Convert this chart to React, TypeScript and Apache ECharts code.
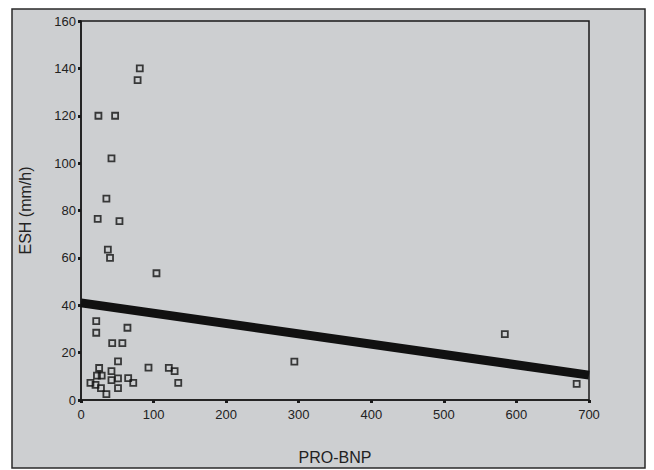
import React, { useEffect, useRef } from "react";
import * as echarts from "echarts";

const proBnp = [81, 78, 24, 47, 42, 35, 23, 53, 37, 40, 104, 21, 21, 64, 43, 57, 51, 25, 22, 28.5, 42, 42, 51, 51, 65, 72, 13, 20, 27.5, 35, 93, 121, 129, 134, 294, 584, 683];
const esh = [140, 135, 120, 120, 102, 85, 76.5, 75.5, 63.5, 60, 53.5, 33.3, 28.4, 30.5, 24, 24, 16.3, 13.5, 10.3, 10.3, 12.2, 8.4, 9.1, 5, 9.2, 7.2, 7.2, 6.4, 5, 2.5, 13.7, 13.6, 12.2, 7.2, 16.2, 27.8, 6.8];
const fitX = [0, 700];
const fitY = [41, 10.5];
const xTitle = "PRO-BNP";
const yTitle = "ESH (mm/h)";

export default function App() {
  const ref = useRef<HTMLDivElement>(null);
  useEffect(() => {
    document.body.style.margin = "0";
    const chart = echarts.init(ref.current!, undefined, { renderer: "svg" });
    const font = "'Liberation Sans', Arial, sans-serif";
    chart.setOption({
      animation: false,
      backgroundColor: "#ffffff",
      graphic: {
        elements: [
          {
            type: "rect",
            z: -100,
            shape: { x: 12, y: 9, width: 633, height: 459 },
            style: { fill: "#cdcfd1", stroke: "#2a2a2a", lineWidth: 1.5 },
          },
        ],
      },
      grid: {
        left: 81,
        top: 21,
        right: 65,
        bottom: 70,
        show: true,
        borderColor: "#1a1a1a",
        borderWidth: 1.5,
        backgroundColor: "transparent",
      },
      xAxis: {
        type: "value",
        min: 0,
        max: 700,
        interval: 100,
        name: xTitle,
        nameLocation: "middle",
        nameGap: 49,
        nameTextStyle: { fontSize: 16, color: "#222", fontFamily: font },
        axisLine: { lineStyle: { color: "#1a1a1a", width: 1.5 } },
        axisTick: { length: 3, lineStyle: { color: "#1a1a1a", width: 3 } },
        axisLabel: { fontSize: 13, color: "#222", fontFamily: font, margin: 8 },
        splitLine: { show: false },
      },
      yAxis: {
        type: "value",
        min: 0,
        max: 160,
        interval: 20,
        name: yTitle,
        nameLocation: "middle",
        nameGap: 48,
        nameRotate: 90,
        nameTextStyle: { fontSize: 16, color: "#222", fontFamily: font },
        axisLine: { lineStyle: { color: "#1a1a1a", width: 1.5 } },
        axisTick: { length: 3, lineStyle: { color: "#1a1a1a", width: 3 } },
        axisLabel: { fontSize: 13, color: "#222", fontFamily: font, margin: 5 },
        splitLine: { show: false },
      },
      series: [
        {
          type: "line",
          data: fitX.map((x, i) => [x, fitY[i]]),
          symbol: "none",
          lineStyle: { color: "#111", width: 9 },
          z: 2,
        },
        {
          type: "scatter",
          data: proBnp.map((x, i) => [x, esh[i]]),
          symbol: "rect",
          symbolSize: 6,
          itemStyle: { color: "rgba(0,0,0,0)", borderColor: "#111", borderWidth: 1.8 },
          z: 3,
        },
      ],
    });
    return () => chart.dispose();
  }, []);
  return <div ref={ref} style={{ width: 654, height: 470 }} />;
}
